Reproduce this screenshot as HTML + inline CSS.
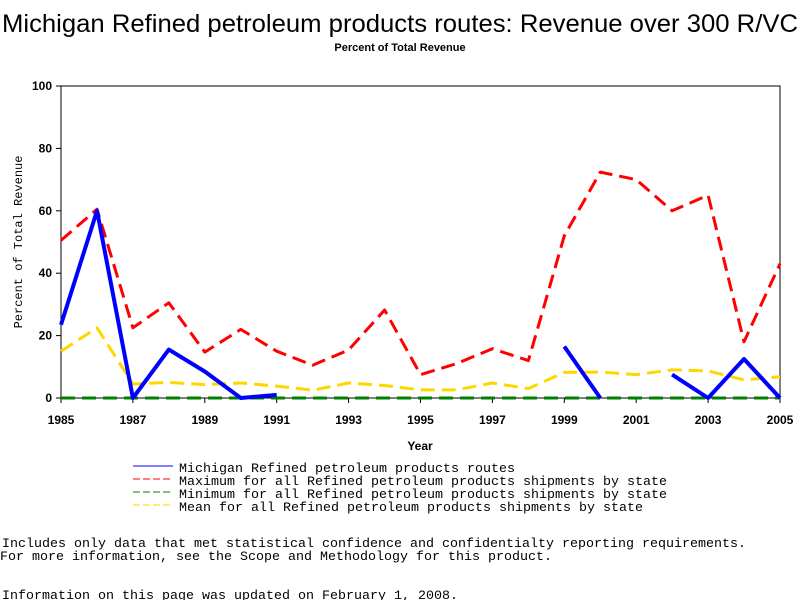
<!DOCTYPE html>
<html><head><meta charset="utf-8"><style>body{margin:0;background:#fff}svg{display:block}</style></head>
<body>
<svg id="chart" width="800" height="600" xmlns="http://www.w3.org/2000/svg">
<text x="400" y="32" text-anchor="middle" font-family="Liberation Sans, sans-serif" font-size="25" textLength="796" lengthAdjust="spacingAndGlyphs">Michigan Refined petroleum products routes: Revenue over 300 R/VC</text>
<text x="400" y="51" text-anchor="middle" font-family="Liberation Sans, sans-serif" font-size="11" font-weight="bold">Percent of Total Revenue</text>
<rect x="61" y="86" width="719" height="312" fill="none" stroke="#000" stroke-width="1"/>
<g id="yticks"></g><g id="xticks"></g><g id="series"></g>
<text transform="translate(22,242) rotate(-90)" text-anchor="middle" font-family="Liberation Mono, monospace" font-size="12">Percent of Total Revenue</text>
<text x="420" y="450" text-anchor="middle" font-family="Liberation Sans, sans-serif" font-size="12" font-weight="bold">Year</text>
<g font-family="Liberation Mono, monospace" font-size="13.3">
<g><line x1="133" y1="466" x2="173" y2="466" stroke="#0000ff" stroke-width="1"/><text x="179" y="472" textLength="336" lengthAdjust="spacingAndGlyphs">Michigan Refined petroleum products routes</text></g>
<g><line x1="133" y1="479" x2="173" y2="479" stroke="#ff0000" stroke-dasharray="7,3"/><text x="179" y="485" textLength="488" lengthAdjust="spacingAndGlyphs">Maximum for all Refined petroleum products shipments by state</text></g>
<g><line x1="133" y1="492" x2="173" y2="492" stroke="#008000" stroke-dasharray="7,3"/><text x="179" y="498" textLength="488" lengthAdjust="spacingAndGlyphs">Minimum for all Refined petroleum products shipments by state</text></g>
<g><line x1="133" y1="505" x2="173" y2="505" stroke="#ffd700" stroke-dasharray="7,3"/><text x="179" y="511" textLength="464" lengthAdjust="spacingAndGlyphs">Mean for all Refined petroleum products shipments by state</text></g>
<text x="2" y="547" textLength="744" lengthAdjust="spacingAndGlyphs">Includes only data that met statistical confidence and confidentialty reporting requirements.</text>
<text x="0" y="560" textLength="552" lengthAdjust="spacingAndGlyphs">For more information, see the Scope and Methodology for this product.</text>
<text x="2" y="599" textLength="456" lengthAdjust="spacingAndGlyphs">Information on this page was updated on February 1, 2008.</text>
</g>
</svg>
<script>
const years=[1985,1986,1987,1988,1989,1990,1991,1992,1993,1994,1995,1996,1997,1998,1999,2000,2001,2002,2003,2004,2005];
const michigan=[23.5,60,0,15.5,8.5,0,1,null,null,null,null,null,null,null,16.5,0,null,7.5,0,12.5,0];
const maximum=[50.5,60.5,22.5,30.5,14.7,22,15,10.5,15.4,28.2,7.5,11,15.8,12,52,72.4,70,60,65,18,43];
const minimum=[0,0,0,0,0,0,0,0,0,0,0,0,0,0,0,0,0,0,0,0,0];
const mean=[15,22.5,4.5,5,4.3,4.8,3.8,2.5,4.8,4,2.6,2.6,4.8,3,8.2,8.3,7.5,9,8.7,5.8,6.8];
const yTicks=[0,20,40,60,80,100];
const xTickLabels=[1985,1987,1989,1991,1993,1995,1997,1999,2001,2003,2005];
const NS="http://www.w3.org/2000/svg";
const xs=y=>61+(y-1985)*719/20, ys=v=>398-v*3.12;
function mk(tag,attrs,parent){const e=document.createElementNS(NS,tag);for(const k in attrs)e.setAttribute(k,attrs[k]);parent.appendChild(e);return e;}
const yt=document.getElementById('yticks'),xt=document.getElementById('xticks'),sg=document.getElementById('series');
yTicks.forEach(v=>{const g=mk('g',{},yt);


mk('line',{x1:56,x2:61,y1:ys(v),y2:ys(v),stroke:'#000'},g);
const t=mk('text',{x:52,y:ys(v)+4,'text-anchor':'end','font-family':'Liberation Sans, sans-serif','font-size':12,'font-weight':'bold'},g);t.textContent=v;});
xTickLabels.forEach(v=>{const g=mk('g',{},xt);


mk('line',{x1:xs(v),x2:xs(v),y1:398,y2:403,stroke:'#000'},g);
const t=mk('text',{x:xs(v),y:424,'text-anchor':'middle','font-family':'Liberation Sans, sans-serif','font-size':12,'font-weight':'bold'},g);t.textContent=v;});
function draw(vals,name,color,w,dash){let d='',pen=false;
vals.forEach((v,i)=>{if(v===null){pen=false;return;}d+=(pen?'L':'M')+xs(years[i]).toFixed(1)+' '+ys(v).toFixed(1)+' ';pen=true;});
const p=mk('path',{d:d,fill:'none',stroke:color,'stroke-width':w,'stroke-linejoin':'round'},sg);
if(dash)p.setAttribute('stroke-dasharray',dash);

}
draw(mean,'mean-line','#ffd700',3,'14,7');
draw(maximum,'maximum-line','#ff0000',3,'14,7');
draw(minimum,'minimum-line','#008000',3,'14,7');
draw(michigan,'michigan-line','#0000ff',4,null);
</script>
</body></html>
